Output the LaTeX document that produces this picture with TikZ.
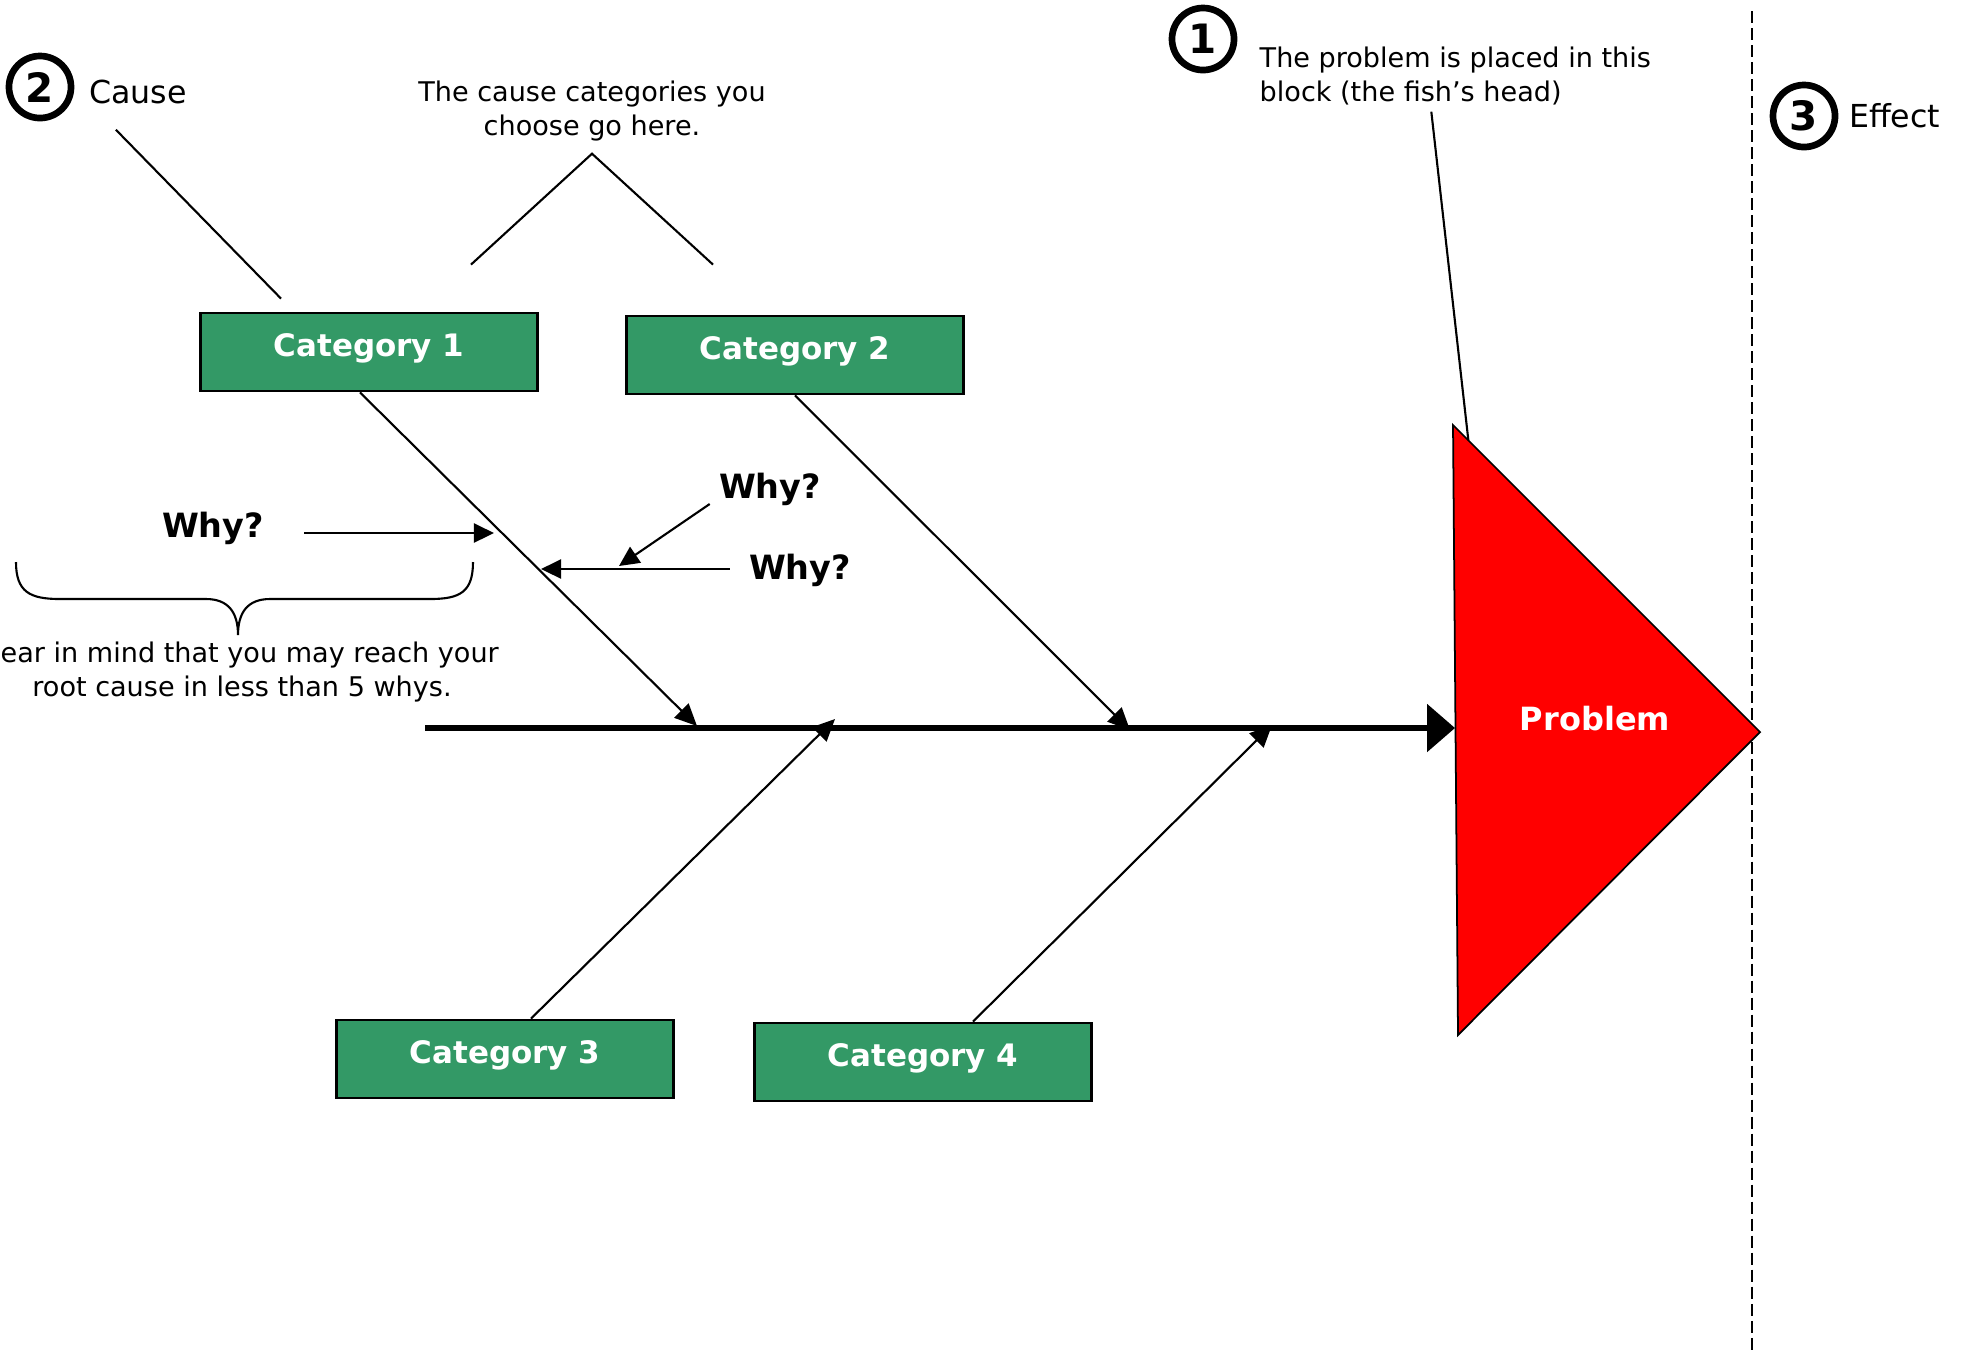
\documentclass[tikz,border=0pt]{standalone}
\usepackage{fontspec}
\setmainfont{DejaVu Sans}
\usetikzlibrary{arrows.meta,positioning,calc}
\definecolor{catgreen}{RGB}{51,153,102}

\begin{document}
\begin{tikzpicture}[x=0.01cm, y=-0.01cm,
		catbox/.style={draw=black, line width=0.8pt, fill=catgreen, text=white, font=\fontsize{8.8}{10}\selectfont\bfseries, text depth=0.42em, minimum width=3.37cm, minimum height=0.78cm},
		numcircle/.style={circle, draw=black, line width=1.9pt, minimum size=0.62cm, inner sep=0pt, font=\fontsize{11.5}{13}\selectfont\bfseries},
		bone/.style={line width=0.6pt, -{Triangle[length=0.22cm, width=0.2cm]}},
		whyarrow/.style={line width=0.6pt, -{Triangle[length=0.2cm, width=0.19cm]}},
		whytext/.style={font=\fontsize{9.5}{11}\selectfont\bfseries},
		heading/.style={font=\fontsize{9}{11}\selectfont, inner sep=0pt},
		note/.style={font=\fontsize{7.7}{9.6}\selectfont, align=center, inner sep=0pt}]
			\useasboundingbox (0,0) rectangle (1961,1350);

			% effect border
			\draw[line width=0.6pt, dash pattern=on 0.12cm off 0.05cm] (1752,11) -- (1752,1350);

			% head
			\coordinate (h1) at (1453,425);
			\coordinate (h2) at (1760,732);
			\coordinate (h3) at (1458,1035);
			\filldraw[fill=red, draw=black, line width=0.5pt] (h1) -- (h2) -- (h3) -- cycle;
			\node[text=white, font=\fontsize{9.1}{11}\selectfont\bfseries] (problem) at (1595,719) {Problem};

			% spine
			\coordinate (tail) at (425,728);
			\coordinate (mouth) at (1455,728);
			\draw[line width=1.6pt, -{Triangle[length=0.28cm, width=0.47cm]}] (tail) -- (mouth);

			% categories
			\node[catbox] (cat1) at (369,352) {Category 1};
			\node[catbox] (cat2) at (795,355) {Category 2};
			\node[catbox] (cat3) at (505,1059) {Category 3};
			\node[catbox] (cat4) at (923,1062) {Category 4};

			% bones
			\coordinate (t1) at (697,726);
			\coordinate (t2) at (1130,730);
			\coordinate (t3) at (835,719);
			\coordinate (t4) at (1272,725);
			\draw[bone] ($(cat1.south)+(-9,0)$) -- (t1);
			\draw[bone] (cat2.south) -- (t2);
			\draw[bone] ($(cat3.north)+(26,0)$) -- (t3);
			\draw[bone] ($(cat4.north)+(50,0)$) -- (t4);

			% numbers
			\node[numcircle] (n1) at (1203,39) {1};
			\node[numcircle] (n2) at (40,87) {2};
			\node[numcircle] (n3) at (1804,116) {3};
			\node[heading, right=0.14cm of n2, yshift=-0.05cm] (cause) {Cause};
			\node[heading, right=0.1cm of n3] (effect) {Effect};

			% notes
			\node[note] (choose) at (592,111) {The cause categories you\\choose go here.};
			\node[note, align=left, anchor=west] (probnote) at (1259,76) {The problem is placed in this\\block (the fish’s head)};
			\node[note, anchor=west] (bear1) at (0,655) {ear in mind that you may reach your};
			\node[note] (bear2) at (242,689) {root cause in less than 5 whys.};

			% pointers
			\draw[line width=0.6pt] ($(cause.south)+(-22,25)$) -- ($(cat1.north)+(-88,-13)$);
			\draw[line width=0.6pt] ($(cat1.north)+(102,-47)$) -- ($(choose.south)+(0,12)$) -- ($(cat2.north)+(-82,-50)$);
			\draw[line width=0.6pt] ($(probnote.south)+(-24,6)$) -- ($(h1)!0.05!(h2)$);

			% whys
			\node[whytext] (why1) at (213,528) {Why?};
			\node[whytext] (why2) at (770,489) {Why?};
			\node[whytext] (why3) at (800,570) {Why?};
			\coordinate (w1) at (494,533);
			\coordinate (w2) at (619,566);
			\coordinate (w3) at (541,569);
			\draw[whyarrow] ($(why1.east)+(28,5)$) -- (w1);
			\draw[whyarrow] ($(why2.west)+(3,15)$) -- (w2);
			\draw[whyarrow] ($(why3.west)+(-7,-1)$) -- (w3);

			% brace
			\draw[line width=0.6pt] (16,562) .. controls (16,592) and (30,599) .. (60,599) -- (206,599) .. controls (228,599) and (238,612) .. (238,635) .. controls (238,612) and (248,599) .. (270,599) -- (430,599) .. controls (460,599) and (473,592) .. (473,562);
		\end{tikzpicture}
\end{document}
